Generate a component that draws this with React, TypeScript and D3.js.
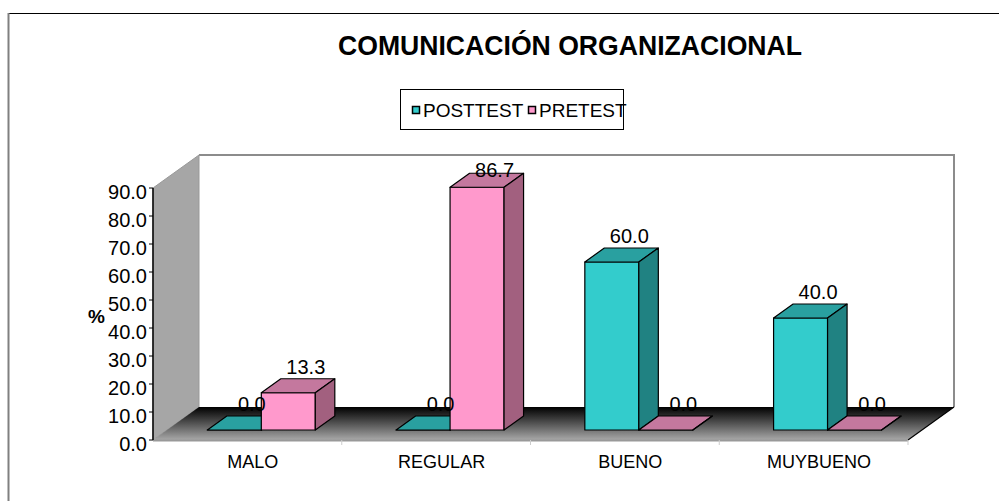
import React from "react";
import * as d3 from "d3";

const categories = ["MALO", "REGULAR", "BUENO", "MUYBUENO"];
const seriesNames = ["POSTTEST", "PRETEST"];
const posttestValues = [0.0, 0.0, 60.0, 40.0];
const pretestValues = [13.3, 86.7, 0.0, 0.0];
const yTickValues = [0, 10, 20, 30, 40, 50, 60, 70, 80, 90];
const titleText = "COMUNICACIÓN ORGANIZACIONAL";

const W = 999;
const H = 501;
const FONT = "'Liberation Sans', Arial, Helvetica, sans-serif";

const colors = [
  { front: "#33CCCC", top: "#29A0A0", side: "#208282" },
  { front: "#FF99CC", top: "#C4789E", side: "#A2607F" },
];

export default function App() {
  const x0 = 153, x1 = 908;
  const DX = 46, DY = 33; // full depth offset
  const zFront = 10 / 33, zBack = 24 / 33;
  const x = d3.scaleBand<string>().domain(categories).range([x0, x1]).paddingInner(0).paddingOuter(0);
  const y = d3.scaleLinear().domain([0, 90]).range([440, 188]);
  const bw = x.bandwidth();
  const groupW = bw * 0.572;
  const sub = d3.scaleBand<string>().domain(seriesNames).range([(bw - groupW) / 2, (bw + groupW) / 2]);
  const fmt = d3.format(".1f");

  const P = (px: number, v: number, z: number): [number, number] => [px + z * DX, y(v) - z * DY];
  const poly = (pts: [number, number][]) => pts.map((p) => p.join(",")).join(" ");

  const y0 = y(0);
  const yTop = y(90);
  const wallTop = yTop - DY;

  const bars: JSX.Element[] = [];
  const labels: JSX.Element[] = [];
  categories.forEach((c, i) => {
    const vals = [posttestValues[i], pretestValues[i]];
    seriesNames.forEach((s, k) => {
      const v = vals[k];
      const xl = (x(c) as number) + (sub(s) as number);
      const xr = xl + sub.bandwidth();
      const col = colors[k];
      const fBL = P(xl, 0, zFront), fBR = P(xr, 0, zFront), fTL = P(xl, v, zFront), fTR = P(xr, v, zFront);
      const bTL = P(xl, v, zBack), bTR = P(xr, v, zBack), bBR = P(xr, 0, zBack);
      bars.push(
        <g key={c + s} stroke="#000" strokeWidth={1.2} strokeLinejoin="round">
          <polygon points={poly([fBL, fBR, fTR, fTL])} fill={col.front} />
          <polygon points={poly([fTL, fTR, bTR, bTL])} fill={col.top} />
          <polygon points={poly([fBR, bBR, bTR, fTR])} fill={col.side} />
        </g>
      );
      const cx = (bTL[0] + bTR[0]) / 2 - 2;
      const by = Math.max(bTL[1] - 5, wallTop + 22);
      labels.push(
        <text key={"l" + c + s} x={cx} y={by} textAnchor="middle" fontSize={20} fontFamily={FONT} fill="#000">
          {fmt(v)}
        </text>
      );
    });
  });

  return (
    <svg width={W} height={H} style={{ position: "absolute", left: 0, top: 0, background: "#fff" }}>
      <defs>
        <linearGradient id="floorGrad" x1="0" y1="0" x2="0" y2="1">
          <stop offset="0" stopColor="#000" />
          <stop offset="0.35" stopColor="#3a3a3a" />
          <stop offset="1" stopColor="#a8a8a8" />
        </linearGradient>
      </defs>
      <rect x={0} y={0} width={W} height={H} fill="#fff" />
      {/* outer frame */}
      <line x1={8} y1={13.5} x2={W} y2={13.5} stroke="#000" strokeWidth={1} />
      <line x1={8.5} y1={13} x2={8.5} y2={H} stroke="#808080" strokeWidth={2} />

      {/* title */}
      <text x={338} y={55} fontSize={28} fontWeight="bold" fontFamily={FONT} fill="#000" textLength={464} lengthAdjust="spacingAndGlyphs">
        {titleText}
      </text>

      {/* legend */}
      <rect x={400.5} y={89.5} width={223} height={40} fill="#fff" stroke="#000" strokeWidth={1} />
      {seriesNames.map((s, k) => {
        const lx = k === 0 ? 412 : 528;
        return (
          <g key={s}>
            <rect x={lx + 0.5} y={106.5} width={7} height={7} fill={colors[k].front} stroke="#000" strokeWidth={1.5} />
            <text x={lx + 11} y={117} fontSize={19} fontFamily={FONT} fill="#000">{s}</text>
          </g>
        );
      })}

      {/* back wall */}
      <rect x={x0 + DX} y={wallTop} width={x1 - x0} height={y0 - yTop} fill="#fff" />
      <polyline
        points={poly([[x0 + DX, wallTop], [x1 + DX, wallTop], [x1 + DX, y0 - DY]])}
        fill="none"
        stroke="#8c8c8c"
        strokeWidth={2}
      />
      {/* left wall */}
      <polygon points={poly([[x0, yTop], [x0 + DX, wallTop], [x0 + DX, y0 - DY], [x0, y0]])} fill="#a6a6a6" stroke="#999" strokeWidth={1} />
      {/* floor */}
      <polygon points={poly([[x0, y0], [x0 + DX, y0 - DY], [x1 + DX, y0 - DY], [x1, y0]])} fill="url(#floorGrad)" />
      <line x1={x1 + DX} y1={y0 - DY} x2={x1} y2={y0} stroke="#000" strokeWidth={1.2} />
      <line x1={x0} y1={y0 + 0.5} x2={x1} y2={y0 + 0.5} stroke="#999" strokeWidth={2} />
      {categories.map((c) => (
        <line key={"xt" + c} x1={(x(c) as number) + bw} y1={y0} x2={(x(c) as number) + bw} y2={y0 + 5} stroke="#ccc" strokeWidth={1} />
      ))}

      {/* y axis */}
      <line x1={x0} y1={yTop} x2={x0} y2={y0} stroke="#000" strokeWidth={1.5} />
      {yTickValues.map((t) => (
        <g key={"yt" + t}>
          <line x1={x0 - 4} y1={y(t)} x2={x0} y2={y(t)} stroke="#000" strokeWidth={1} />
          <text x={147} y={y(t) + 11} textAnchor="end" fontSize={20} fontFamily={FONT} fill="#000">
            {fmt(t)}
          </text>
        </g>
      ))}
      <text x={88} y={323} fontSize={19} fontWeight="bold" fontFamily={FONT} fill="#000">%</text>

      {bars}
      {labels}

      {/* x labels */}
      {categories.map((c) => (
        <text key={"xl" + c} x={(x(c) as number) + bw / 2 + 5.5} y={468} textAnchor="middle" fontSize={18} fontFamily={FONT} fill="#000">
          {c}
        </text>
      ))}
    </svg>
  );
}
